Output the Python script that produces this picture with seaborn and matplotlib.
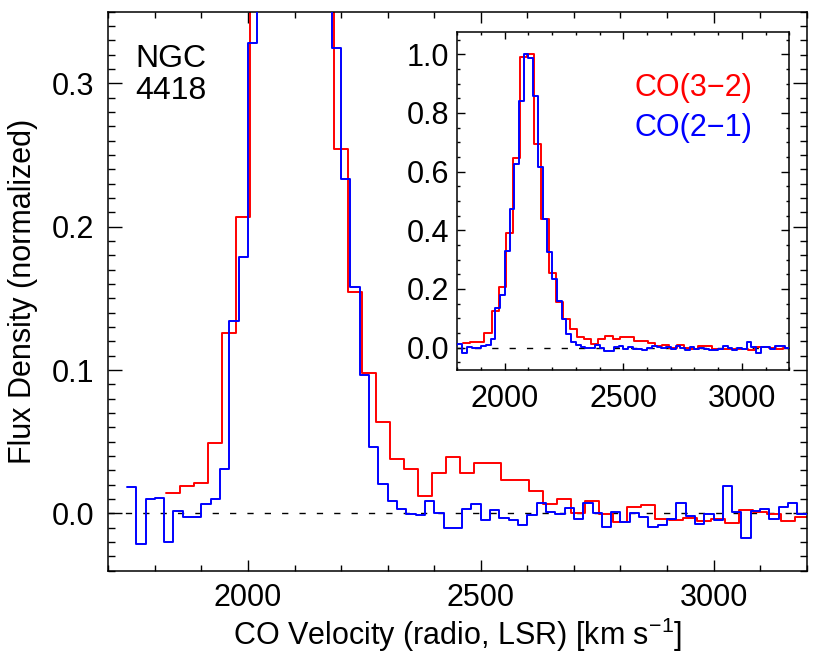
import numpy as np
import pandas as pd
import matplotlib
matplotlib.use("Agg")
import matplotlib.pyplot as plt
import seaborn as sns
from matplotlib.ticker import MultipleLocator, FormatStrFormatter

# ---------------- data ----------------
# CO(2-1): channels of 20 km/s, first channel starts at 1740 km/s
co21_start = 1740.0
co21_width = 20.0
co21_flux = [
    0.0186, -0.0216, 0.0098, 0.0110, -0.0198, 0.0016, -0.0023, -0.0023, 0.0067, 0.0100,
    0.0310, 0.1340, 0.1790, 0.3280, 0.4730, 0.6250, 0.8410, 1.0000, 0.9860, 0.8590,
    0.6170, 0.4390, 0.3245, 0.2330, 0.1580, 0.0965, 0.0465, 0.0207, 0.0087, 0.0033,
    -0.0005, -0.0010, 0.0089, 0.0000, -0.0100, -0.0100, 0.0032, 0.0065, -0.0043, 0.0025,
    -0.0033, -0.0049, -0.0080, -0.0012, 0.0070, 0.0007, -0.0007, 0.0037, -0.0042, 0.0072,
    0.0004, -0.0093, 0.0009, -0.0058, 0.0004, -0.0028, -0.0093, -0.0082, -0.0042, 0.0070,
    -0.0016, -0.0075, -0.0002, -0.0044, 0.0190, 0.0012, -0.0175, 0.0016, 0.0032, -0.0040,
    0.0042, 0.0074, -0.0007,
]

# CO(3-2): channels of 30 km/s, first channel starts at 1824.5 km/s
co32_start = 1824.5
co32_width = 30.0
co32_flux = [
    0.0144, 0.0193, 0.0209, 0.0490, 0.1256, 0.2066, 0.3920, 0.6480, 0.9900, 1.0000,
    0.6930, 0.4380, 0.2540, 0.1546, 0.0980, 0.0637, 0.0377, 0.0307, 0.0123, 0.0284,
    0.0390, 0.0284, 0.0353, 0.0353, 0.0232, 0.0232, 0.0158, 0.0065, 0.0100, 0.0002,
    0.0083, -0.0007, -0.0058, 0.0042, 0.0056, -0.0042, -0.0047, -0.0030, -0.0054, -0.0042,
    -0.0065, 0.0023, 0.0007, -0.0005, -0.0051, -0.0023,
]

main_xticks = [2000, 2500, 3000]
main_yticks = [0.0, 0.1, 0.2, 0.3]
inset_yticks = [0.0, 0.2, 0.4, 0.6, 0.8, 1.0]
label_co32 = "CO(3\u22122)"
label_co21 = "CO(2\u22121)"


def stairs_frame(start, width, flux):
    edges = start + width * np.arange(len(flux) + 1)
    vals = list(flux) + [flux[-1]]
    return pd.DataFrame({"v": edges, "f": vals})


df21 = stairs_frame(co21_start, co21_width, co21_flux)
df32 = stairs_frame(co32_start, co32_width, co32_flux)

# ---------------- style ----------------
sns.set_theme(style="ticks")
plt.rcParams.update({
    "font.family": ["Liberation Sans", "DejaVu Sans"],
    "mathtext.fontset": "custom",
    "mathtext.rm": "Liberation Sans",
    "mathtext.it": "Liberation Sans:italic",
    "axes.edgecolor": "black",
    "axes.labelcolor": "black",
    "text.color": "black",
    "xtick.color": "black",
    "ytick.color": "black",
    "axes.linewidth": 1.1,
})

FS = 22

fig = plt.figure(figsize=(8.3, 6.64), dpi=100)
ax = fig.add_axes([0.1305, 0.1405, 0.8414, 0.8419])
axin = fig.add_axes([0.551, 0.4428, 0.4, 0.5095])


def draw(a):
    a.axhline(0.0, color="black", lw=1.0, dashes=(4.5, 8.0), zorder=1)
    sns.lineplot(data=df32, x="v", y="f", color="red", lw=1.4,
                 drawstyle="steps-post", estimator=None, sort=False, ax=a, zorder=2)
    sns.lineplot(data=df21, x="v", y="f", color="blue", lw=1.4,
                 drawstyle="steps-post", estimator=None, sort=False, ax=a, zorder=3)


draw(ax)
draw(axin)

# main axes
ax.set_xlim(1700, 3200)
ax.set_ylim(-0.04, 0.35)
ax.set_xticks(main_xticks)
ax.set_yticks(main_yticks)
ax.xaxis.set_minor_locator(MultipleLocator(100))
ax.yaxis.set_minor_locator(MultipleLocator(0.01))
ax.yaxis.set_major_formatter(FormatStrFormatter("%.1f"))
ax.tick_params(which="both", direction="in", top=True, right=True,
               labelsize=FS, width=1.0)
ax.tick_params(axis="x", which="major", length=8, pad=9)
ax.tick_params(axis="x", which="minor", length=4)
ax.tick_params(axis="y", which="major", length=10, pad=10)
ax.tick_params(axis="y", which="minor", length=5)
ax.set_xlabel(r"CO Velocity (radio, LSR) [km s$^{-1}$]", fontsize=FS, labelpad=2)
ax.set_ylabel("Flux Density (normalized)", fontsize=FS, labelpad=10)

# inset axes
axin.set_facecolor("white")
axin.set_xlim(1800, 3200)
axin.set_ylim(-0.076, 1.077)
axin.set_xticks(main_xticks)
axin.set_yticks(inset_yticks)
axin.xaxis.set_minor_locator(MultipleLocator(100))
axin.yaxis.set_minor_locator(MultipleLocator(0.05))
axin.yaxis.set_major_formatter(FormatStrFormatter("%.1f"))
axin.tick_params(which="both", direction="in", top=True, right=True,
                 labelsize=FS, width=1.0)
axin.tick_params(axis="x", which="major", length=5, pad=10)
axin.tick_params(axis="x", which="minor", length=2.5)
axin.tick_params(axis="y", which="major", length=5.5, pad=6)
axin.tick_params(axis="y", which="minor", length=2.5)
axin.set_xlabel("")
axin.set_ylabel("")

# annotations
fig.text(0.163, 1 - 67 / 664, "NGC", fontsize=FS + 1, ha="left", va="baseline")
fig.text(0.163, 1 - 99 / 664, "4418", fontsize=FS + 1, ha="left", va="baseline")
fig.text(752 / 830, 1 - 96 / 664, label_co32, color="red", fontsize=FS,
         ha="right", va="baseline")
fig.text(752 / 830, 1 - 136 / 664, label_co21, color="blue", fontsize=FS,
         ha="right", va="baseline")

fig.savefig("out.png", dpi=100)
